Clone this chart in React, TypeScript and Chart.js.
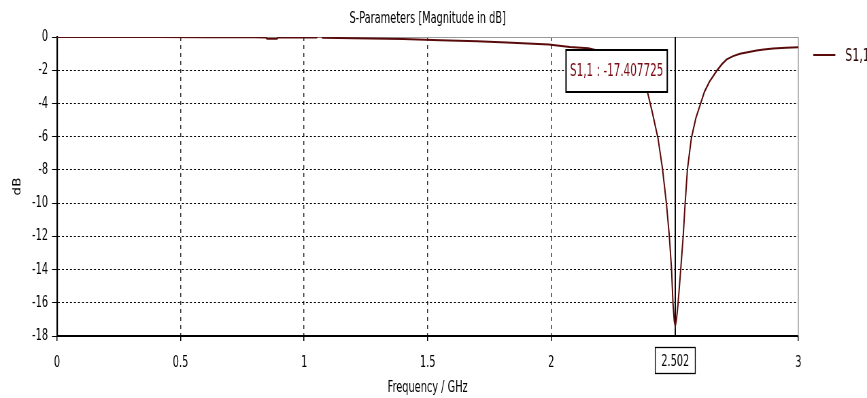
import { useEffect, useRef } from 'react';
import { Chart, registerables } from 'chart.js';

Chart.register(...registerables);

// ---- data ----
const freqGHz = [
  0, 0.2, 0.4, 0.6, 0.8, 0.845, 0.85, 0.89, 0.895, 1.0, 1.05, 1.055, 1.07, 1.075,
  1.2, 1.4, 1.55, 1.7, 1.82, 1.99, 2.075, 2.15, 2.2, 2.25, 2.3, 2.34, 2.37, 2.389,
  2.41, 2.432, 2.45, 2.466, 2.478, 2.487, 2.493, 2.498, 2.502, 2.507, 2.513, 2.524,
  2.534, 2.542, 2.551, 2.567, 2.585, 2.603, 2.62, 2.64, 2.669, 2.69, 2.71, 2.736,
  2.764, 2.8, 2.831, 2.86, 2.898, 2.95, 3.0,
];
const s11dB = [
  0, 0, 0, -0.01, -0.02, -0.03, -0.11, -0.11, -0.03, -0.03, -0.03, 0.04, 0.04, -0.05,
  -0.07, -0.12, -0.19, -0.25, -0.33, -0.45, -0.6, -0.68, -0.85, -1.05, -1.45, -2.0, -2.6, -3.28,
  -4.6, -6.09, -7.9, -10.0, -12.0, -14.0, -16.1, -17.1, -17.41, -17.0, -16.1, -14.0,
  -12.0, -10.0, -8.0, -6.1, -4.9, -4.07, -3.3, -2.7, -2.05, -1.65, -1.35, -1.15,
  -1.01, -0.9, -0.81, -0.75, -0.69, -0.64, -0.61,
];
const xTickValues = [0, 0.5, 1, 1.5, 2, 3];
const yMin = -18;
const yMax = 0;
const yStep = 2;
const markerFreq = 2.502;
const markerValue = -17.407725;
const seriesName = 'S1,1';
const chartTitle = 'S-Parameters [Magnitude in dB]';
const xTitle = 'Frequency / GHz';
const yTitle = 'dB';

// ---- style ----
const W = 867;
const H = 398;
const SQ = 0.68; // horizontal squeeze of the rendered picture (narrow lettering)
const LW = Math.round(W / SQ); // logical canvas width
const FONT = '"DejaVu Sans Condensed", "DejaVu Sans", sans-serif';
const CURVE = '#5a0a0a';
const sx = (px: number) => px / SQ; // screen px -> logical px (horizontal)

const overlay = {
  id: 'overlay',
  beforeDatasetsDraw(chart: any) {
    const { ctx, chartArea: a, scales } = chart;
    ctx.save();
    ctx.strokeStyle = '#9a9a9a';
    ctx.lineWidth = 1;
    ctx.beginPath();
    ctx.moveTo(a.left, a.top + 0.5);
    ctx.lineTo(a.right, a.top + 0.5);
    ctx.stroke();
    ctx.lineWidth = sx(1);
    ctx.beginPath();
    ctx.moveTo(a.right, a.top);
    ctx.lineTo(a.right, a.bottom);
    ctx.stroke();
    const mx = scales.x.getPixelForValue(markerFreq);
    ctx.strokeStyle = '#000';
    ctx.lineWidth = sx(1.3);
    ctx.beginPath();
    ctx.moveTo(mx, a.top);
    ctx.lineTo(mx, a.bottom);
    ctx.stroke();
    ctx.restore();
  },
  afterDatasetsDraw(chart: any) {
    const { ctx, chartArea: a, scales } = chart;
    const mx = scales.x.getPixelForValue(markerFreq);
    ctx.save();
    const text = `${seriesName} : ${markerValue.toFixed(6)}`;
    ctx.font = `17px ${FONT}`;
    const w = ctx.measureText(text).width + sx(8);
    const h = 42;
    const right = mx - sx(8);
    const left = right - w;
    const top = Math.round(a.top) + 13;
    ctx.fillStyle = '#fff';
    ctx.fillRect(left, top, w, h);
    ctx.strokeStyle = '#000';
    ctx.lineWidth = 2;
    ctx.strokeRect(left, top, w, h);
    ctx.fillStyle = '#7a0c16';
    ctx.textAlign = 'center';
    ctx.textBaseline = 'middle';
    ctx.fillText(text, left + w / 2, top + h / 2 + 1);
    ctx.restore();
  },
  afterDraw(chart: any) {
    const { ctx, chartArea: a, scales } = chart;
    ctx.save();
    // title
    ctx.font = `16px ${FONT}`;
    ctx.fillStyle = '#000';
    ctx.textAlign = 'center';
    ctx.textBaseline = 'middle';
    ctx.fillText(chartTitle, (a.left + a.right) / 2, 18.5);
    // marker frequency box on the x axis
    const mx = scales.x.getPixelForValue(markerFreq);
    const label = String(markerFreq);
    ctx.font = `16px ${FONT}`;
    const bw = ctx.measureText(label).width + sx(12);
    const bh = 26;
    const bl = mx - bw / 2;
    const bt = Math.round(a.bottom) + 11.5;
    ctx.fillStyle = '#fff';
    ctx.fillRect(bl, bt, bw, bh);
    ctx.strokeStyle = '#000';
    ctx.lineWidth = 1.3;
    ctx.strokeRect(bl, bt, bw, bh);
    ctx.fillStyle = '#000';
    ctx.fillText(label, bl + bw / 2, bt + bh / 2 + 1);
    // legend
    const ly = a.top + 18;
    ctx.strokeStyle = CURVE;
    ctx.lineWidth = 2;
    ctx.beginPath();
    ctx.moveTo(a.right + sx(15), ly);
    ctx.lineTo(a.right + sx(37), ly);
    ctx.stroke();
    ctx.fillStyle = '#2a0505';
    ctx.textAlign = 'left';
    ctx.font = `18px ${FONT}`;
    ctx.fillText(seriesName, a.right + sx(47), ly + 1);
    ctx.restore();
  },
};

export default function App() {
  const ref = useRef<HTMLCanvasElement | null>(null);
  useEffect(() => {
    if (!ref.current) return;
    const chart = new Chart(ref.current, {
      type: 'line',
      data: {
        datasets: [
          {
            label: seriesName,
            data: freqGHz.map((f, i) => ({ x: f, y: s11dB[i] })),
            borderColor: CURVE,
            borderWidth: 2,
            pointRadius: 0,
            tension: 0,
            fill: false,
          },
        ],
      },
      options: {
        animation: false,
        responsive: false,
        devicePixelRatio: 1,
        layout: { padding: { left: 0, right: Math.round(LW - sx(798)), top: 37, bottom: 0 } },
        plugins: {
          legend: { display: false },
          title: { display: false },
          tooltip: { enabled: false },
        },
        scales: {
          x: {
            type: 'linear',
            min: 0,
            max: 3,
            afterBuildTicks: (scale: any) => {
              scale.ticks = xTickValues.map((v) => ({ value: v }));
            },
            afterFit: (scale: any) => {
              scale.height = 62;
            },
            ticks: {
              autoSkip: false,
              maxRotation: 0,
              padding: 12,
              color: '#000',
              font: { family: FONT, size: 16 },
              callback: (v: any) => String(v),
            },
            grid: {
              color: (c: any) =>
                c.tick && (c.tick.value === 0 || c.tick.value === 3) ? 'rgba(0,0,0,0)' : '#333',
              lineWidth: sx(1),
              tickLength: 5,
              tickColor: '#000',
              tickWidth: sx(1),
              tickBorderDash: [],
            },
            border: { display: true, color: '#000', width: 2, dash: [4, 4] },
            title: {
              display: true,
              text: xTitle,
              color: '#000',
              font: { family: FONT, size: 16 },
              padding: { top: 0, bottom: 1 },
            },
          },
          y: {
            type: 'linear',
            min: yMin,
            max: yMax,
            afterFit: (scale: any) => {
              scale.width = sx(57);
            },
            ticks: {
              stepSize: yStep,
              padding: sx(4),
              color: '#000',
              font: { family: FONT, size: 16 },
            },
            grid: {
              color: (c: any) =>
                c.tick && (c.tick.value === yMin || c.tick.value === yMax) ? 'rgba(0,0,0,0)' : '#000',
              lineWidth: 1,
              tickLength: sx(5),
              tickColor: '#000',
              tickWidth: 1,
              tickBorderDash: [],
            },
            border: { display: true, color: '#000', width: sx(1.5), dash: [sx(2), sx(2)] },
            title: {
              display: true,
              text: yTitle,
              color: '#000',
              font: { family: FONT, size: 15 },
              padding: { top: sx(18) - 9, bottom: 0 },
            },
          },
        },
      },
      plugins: [overlay],
    });
    return () => chart.destroy();
  }, []);
  return (
    <div style={{ position: 'fixed', left: 0, top: 0, width: W, height: H, background: '#fff' }}>
      <canvas
        ref={ref}
        width={LW}
        height={H}
        style={{ display: 'block', width: `${W}px`, height: `${H}px` }}
      />
    </div>
  );
}
